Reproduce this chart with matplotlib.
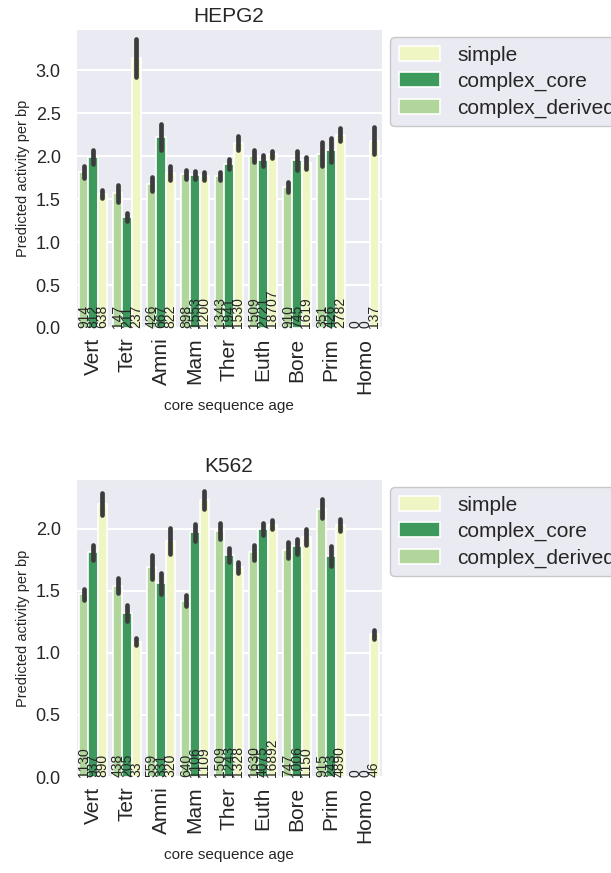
import matplotlib
matplotlib.use("Agg")
import matplotlib.pyplot as plt
import seaborn as sns
import numpy as np

sns.set_style("darkgrid")
plt.rcParams['font.family'] = ['Liberation Sans', 'DejaVu Sans']

ages = ['Vert', 'Tetr', 'Amni', 'Mam', 'Ther', 'Euth', 'Bore', 'Prim', 'Homo']
arch = ['complex_derived', 'complex_core', 'simple']
colors = {'complex_derived': '#b0d69b', 'complex_core': '#3d9a5c', 'simple': '#eff6c4'}

# HEPG2 mean activity, CI half width, counts
hepg2_derived = [1.82, 1.57, 1.68, 1.79, 1.77, 2.00, 1.64, 2.03, np.nan]
hepg2_core = [1.99, 1.29, 2.22, 1.78, 1.91, 1.95, 1.95, 2.07, np.nan]
hepg2_simple = [1.56, 3.14, 1.80, 1.77, 2.15, 2.02, 1.92, 2.25, 2.18]
hepg2_derived_err = [0.07, 0.10, 0.08, 0.05, 0.05, 0.07, 0.055, 0.14, np.nan]
hepg2_core_err = [0.08, 0.05, 0.15, 0.05, 0.06, 0.065, 0.11, 0.14, np.nan]
hepg2_simple_err = [0.05, 0.22, 0.08, 0.05, 0.08, 0.04, 0.07, 0.075, 0.155]
hepg2_derived_n = [914, 147, 426, 898, 1343, 1509, 910, 351, 0]
hepg2_core_n = [812, 211, 667, 1553, 1941, 2721, 745, 426, 0]
hepg2_simple_n = [638, 237, 822, 1200, 1530, 18707, 1619, 2782, 137]

# K562
k562_derived = [1.47, 1.54, 1.69, 1.42, 1.98, 1.81, 1.83, 2.16, np.nan]
k562_core = [1.81, 1.32, 1.56, 1.97, 1.79, 2.00, 1.86, 1.78, np.nan]
k562_simple = [2.20, 1.09, 1.90, 2.23, 1.69, 2.03, 1.93, 2.03, 1.15]
k562_derived_err = [0.047, 0.06, 0.096, 0.043, 0.063, 0.06, 0.065, 0.077, np.nan]
k562_core_err = [0.06, 0.064, 0.084, 0.068, 0.056, 0.047, 0.06, 0.084, np.nan]
k562_simple_err = [0.086, 0.03, 0.106, 0.073, 0.044, 0.036, 0.065, 0.047, 0.037]
k562_derived_n = [1130, 438, 559, 640, 1509, 1630, 747, 915, 0]
k562_core_n = [937, 205, 331, 1106, 1243, 4075, 1006, 243, 0]
k562_simple_n = [890, 33, 320, 1109, 1328, 16892, 1150, 4890, 46]

panels = [
    ('HEPG2', [hepg2_derived, hepg2_core, hepg2_simple],
     [hepg2_derived_err, hepg2_core_err, hepg2_simple_err],
     [hepg2_derived_n, hepg2_core_n, hepg2_simple_n], 3.48, [0, 0.5, 1, 1.5, 2, 2.5, 3]),
    ('K562', [k562_derived, k562_core, k562_simple],
     [k562_derived_err, k562_core_err, k562_simple_err],
     [k562_derived_n, k562_core_n, k562_simple_n], 2.40, [0, 0.5, 1, 1.5, 2]),
]

fig = plt.figure(figsize=(6.11, 8.73), dpi=100)
ax1 = fig.add_axes([76/611, 1-328/873, 306/611, 299/873])
ax2 = fig.add_axes([76/611, 1-777/873, 306/611, 298/873])

x = np.arange(len(ages))
w = 0.8 / 3
for ax, (title, means, errs, counts, ytop, yt) in zip([ax1, ax2], panels):
    handles = {}
    for i, a in enumerate(arch):
        pos = x + (i - 1) * w
        m = np.array(means[i], dtype=float)
        e = np.array(errs[i], dtype=float)
        b = ax.bar(pos, np.nan_to_num(m), width=w, color=colors[a],
                   edgecolor='white', linewidth=1.2, label=a, zorder=2)
        handles[a] = b
        for px, mv, ev in zip(pos, m, e):
            if np.isnan(mv):
                continue
            ax.plot([px, px], [mv - ev, mv + ev], color='#3c3c3c', lw=3.4,
                    solid_capstyle='round', zorder=3)
        for px, n in zip(pos, counts[i]):
            ax.text(px, 0.0, str(n), rotation=90, ha='center', va='bottom',
                    fontsize=10, color='#262626', zorder=4)
    ax.set_xlim(-0.5, len(ages) - 0.5)
    ax.set_ylim(0, ytop)
    ax.set_yticks(yt)
    ax.set_xticks(x)
    ax.set_xticklabels(ages, rotation=90, fontsize=15, color='#262626')
    ax.tick_params(axis='y', labelsize=13, labelcolor='#262626', pad=11)
    ax.tick_params(axis='x', pad=7)
    ax.tick_params(axis='both', length=0)
    ax.grid(axis='x', visible=False)
    ax.grid(axis='y', color='white', lw=1.5)
    ax.set_axisbelow(True)
    ax.set_title(title, fontsize=15, color='#262626', pad=5)
    ax.set_ylabel('Predicted activity per bp', fontsize=10.5, color='#262626')
    ax.set_xlabel('core sequence age', fontsize=11, color='#262626')
    leg = ax.legend([handles['simple'], handles['complex_core'], handles['complex_derived']],
                    ['simple', 'complex_core', 'complex_derived'],
                    loc='upper left', bbox_to_anchor=(1.0, 1.0), fontsize=15,
                    frameon=True, facecolor='#EAEAF2', edgecolor='#c8c8c8',
                    framealpha=1, borderaxespad=0.4, labelspacing=0.35)
    for t in leg.get_texts():
        t.set_color('#262626')

fig.savefig('out.png', dpi=100)
